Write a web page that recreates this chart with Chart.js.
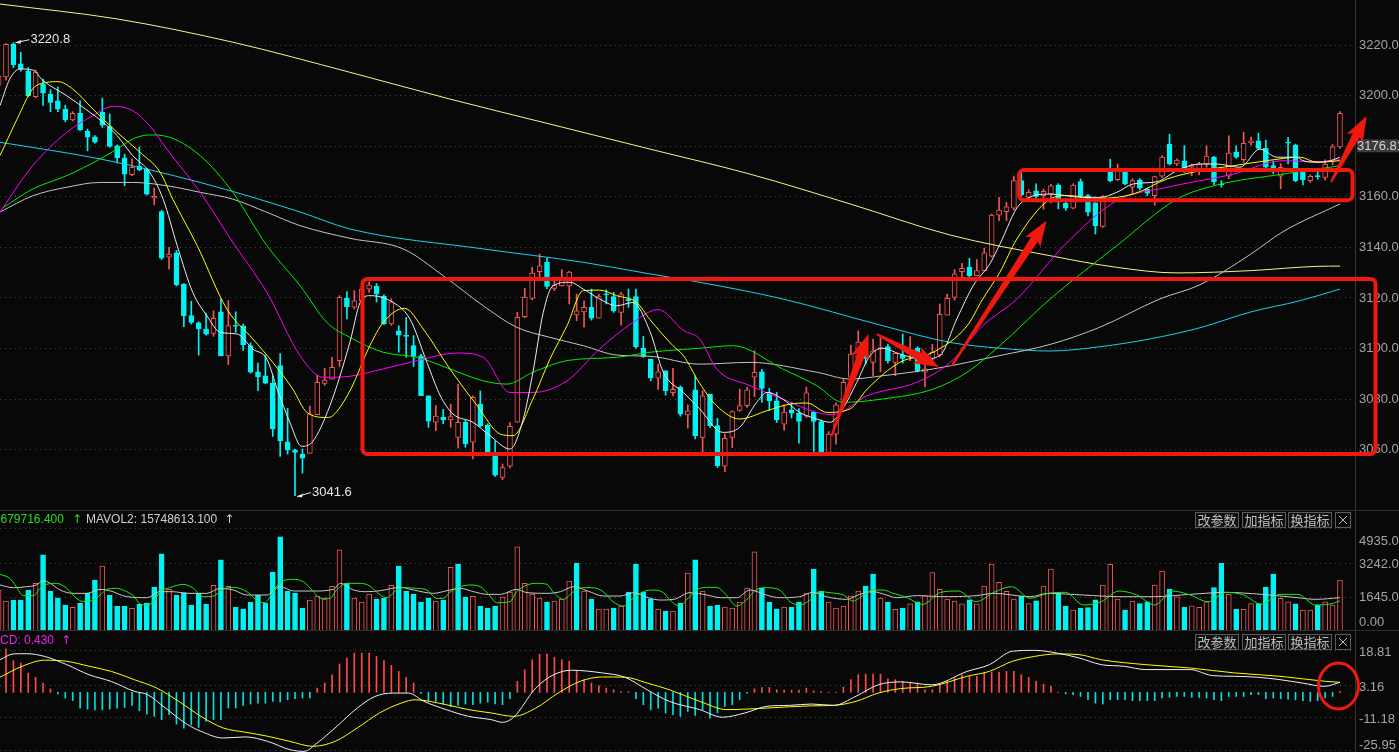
<!DOCTYPE html>
<html>
<head>
<meta charset="utf-8">
<script src="https://cdn.jsdelivr.net/npm/chart.js@4.4.1/dist/chart.umd.min.js"></script>
<style>
html, body { margin:0; padding:0; background:#080808; overflow:hidden; }
#wrap { position:relative; width:1399px; height:752px; background:#080808; }
canvas { position:absolute; left:0; }
</style>
</head>
<body>
<div id="wrap">
  <canvas id="price" width="1399" height="510" style="top:0"></canvas>
  <canvas id="vol" width="1399" height="120" style="top:510px"></canvas>
  <canvas id="macd" width="1399" height="122" style="top:630px"></canvas>
</div>
<script>
// ---- candles ----
const opens = [3204,3207.3,3220.3,3212.4,3209.7,3199.4,3204.4,3200.5,3197.8,3194.5,3190.2,3192.9,3185.7,3183.6,3193.3,3187.6,3180,3175.2,3168.6,3171.9,3170.8,3159.3,3154,3135.9,3137.6,3125.3,3112.8,3109.9,3107.5,3105.8,3114.3,3096.9,3109,3108.8,3100.9,3090.6,3089,3086.1,3093,3062.9,3059.7,3058,3058.3,3073.6,3086,3087.7,3095,3119.6,3116.1,3118.7,3123.3,3124.4,3120.4,3109.5,3106.8,3105.1,3100.9,3096.9,3081.1,3070.6,3072.6,3071.5,3064.6,3070.6,3062.7,3077.8,3069.5,3058.7,3048.8,3053.2,3070.6,3112.4,3119.6,3130.2,3133.9,3123.6,3124.6,3124.6,3113.1,3114.3,3116.1,3111.8,3121.3,3120.3,3114.1,3119.4,3120.3,3100,3095.6,3088,3091,3082.3,3084.4,3073.5,3083.4,3064.6,3081.8,3069.3,3053.2,3064.6,3075.3,3077.2,3088.4,3090.6,3082.2,3079.1,3069.8,3075.5,3074.2,3073,3074.6,3070.9,3058.7,3065.9,3077.5,3088.4,3095.6,3098.3,3094.3,3099.5,3100.5,3094.3,3097.2,3098,3100,3090.4,3095.6,3097.2,3113,3120,3130.2,3131.9,3128.6,3130.6,3136.3,3152.6,3153.9,3155.3,3166.2,3159.6,3162.2,3160.3,3160.9,3164.5,3157.2,3155.3,3165.8,3160.3,3157.4,3148.1,3170.1,3166.6,3170.4,3163.6,3166.5,3162.9,3160.3,3168,3180.7,3172.8,3174.1,3171.5,3170.1,3172.8,3175.5,3164.9,3168,3177.5,3174.5,3181.1,3182,3179,3172.2,3168,3181.4,3180.3,3170,3166.2,3168.2,3167.5,3173.8,3179.6];
const highs = [3209,3220.5,3220.8,3217,3211,3210,3206.4,3202.2,3203.2,3196.1,3193.5,3197.8,3186.6,3184,3198.9,3192.6,3180.4,3176.7,3174.8,3179.5,3171,3163.3,3154.5,3139.8,3138.6,3125.5,3118.5,3110.4,3113.8,3114.7,3119.4,3118.7,3114.3,3109.5,3102,3094,3097.2,3089,3097.8,3076.1,3059.9,3060,3077,3089.3,3092,3096.3,3120.7,3122.3,3122.7,3124.5,3126.2,3125.5,3121,3119.5,3108.8,3112.1,3104.9,3097.5,3081.1,3077.2,3075.7,3077.8,3085.7,3071.5,3081.1,3083,3070,3063.3,3054.1,3070.5,3114.1,3123.6,3131.9,3137.2,3135.5,3126.6,3131,3130.4,3121.3,3118.7,3123.3,3121.3,3123,3122,3122,3123.3,3123.3,3104.6,3095.6,3093.6,3091,3091.9,3085,3077.5,3089,3083.1,3081.8,3072.2,3065.9,3075.1,3083.7,3084.4,3098.9,3091.5,3084,3082.4,3077.5,3078.5,3076,3084.5,3075,3071.5,3066.9,3078.3,3087.5,3101,3106.8,3100.5,3103.5,3104,3101.5,3098,3105.5,3104.5,3100.5,3096,3101.5,3117.4,3121.3,3131,3133.5,3135.5,3135,3139.5,3153,3159.6,3157.6,3168,3170,3162.6,3165,3162.9,3164.8,3165,3158.3,3165,3166.9,3160.8,3157.5,3160.3,3174.7,3172.8,3170.8,3166.9,3167,3163.2,3168,3176.1,3184.6,3174.8,3180,3172.8,3173.5,3180,3175.8,3166.2,3184,3180,3185.4,3183.5,3185,3182.3,3174,3173,3183.4,3180.7,3171,3168.5,3170,3174.5,3180.5,3193.5];
const lows = [3202,3206,3211,3209.5,3199.5,3199,3196,3193.5,3193.5,3189.5,3189.8,3186,3178,3181,3187.3,3179.4,3173.2,3164.2,3168.2,3170.1,3160.5,3156.6,3135,3131.2,3124.5,3108.4,3109.5,3097.2,3105.1,3104.6,3096.9,3093.4,3106.2,3099,3090,3083.1,3085.8,3065,3057.1,3058,3041.6,3050.5,3058.3,3073.6,3085.3,3087.7,3092.7,3111.5,3115.4,3117,3122,3118.2,3109.2,3109,3098.3,3096.3,3092.7,3081.1,3068.6,3067.3,3070,3068.6,3060.3,3060.7,3056.1,3068.8,3058.5,3049.2,3047.9,3052.5,3070.6,3112,3119,3127.3,3123.5,3122.7,3124.4,3117.4,3110.8,3108.2,3111,3111.8,3117.4,3114.1,3109,3116.1,3099.8,3096.3,3087,3083.6,3081.3,3081,3073,3068.3,3064,3058.5,3068.6,3052.7,3051,3060.6,3075,3076.5,3080.8,3078.5,3075.2,3070.5,3067.5,3072.3,3062.3,3072.5,3059,3058,3058.5,3061.9,3077,3087.5,3093,3093.5,3089,3090.5,3094,3089,3094,3095,3090.5,3084.6,3094,3096.5,3113,3119,3127.5,3128.2,3128.6,3130.6,3136,3150.4,3150.4,3154.5,3160,3158.9,3159.2,3154.9,3157.4,3155,3154.4,3155,3159.5,3152.3,3145.1,3147.7,3165.8,3166.2,3164.5,3160.9,3162.5,3160.3,3156.5,3167.5,3172.4,3172.1,3169.5,3168.2,3168.5,3171.5,3164.5,3163.6,3167,3175,3173.5,3180.3,3178.7,3170.3,3169,3163,3172.8,3165.8,3164.5,3165.5,3166.8,3166.5,3172.5,3179];
const closes = [3207.5,3220.2,3212.1,3210.4,3199.8,3209.2,3200.8,3197.2,3194.5,3190.3,3192.9,3186.4,3183.4,3181.4,3188.2,3179.8,3175.2,3168.8,3171.5,3170.5,3160.9,3160,3135.5,3137.2,3125,3112.8,3110.1,3107.5,3105.5,3111.7,3096.9,3108.9,3108.6,3101.3,3090.4,3088.6,3086.1,3068,3063.3,3059.7,3058.7,3056.4,3073.9,3086.4,3087.3,3092.3,3120,3116.3,3118.7,3123.3,3124.9,3121.3,3109.5,3118.3,3105.1,3104.6,3096.7,3081.1,3071,3073,3071.6,3072.8,3070.6,3062,3080.5,3069.3,3058.5,3049.7,3052.7,3069,3112.1,3120,3129.6,3132.5,3124.4,3124.9,3127,3130,3114.7,3116.1,3111.8,3120.3,3121,3114.7,3121.1,3118.7,3100.5,3096.7,3088.1,3090.6,3083.1,3083.6,3073.8,3075.1,3065.3,3081.1,3069.3,3053.4,3064.2,3074.8,3077.2,3083.4,3090.4,3084,3079.1,3071.6,3074.6,3074.2,3070.9,3082.2,3070.9,3058.4,3065.9,3077.5,3086.4,3097.6,3102.3,3095.9,3098.9,3100.2,3095,3097.9,3095.9,3099,3091,3091.7,3098.3,3113.3,3119.6,3129.3,3131.5,3128.6,3130.6,3137.6,3152.6,3154.6,3155.9,3166.2,3160.6,3161.6,3160,3162,3164.2,3158.3,3155.3,3164.5,3160.3,3153.7,3148.4,3159.9,3166.2,3170.5,3164.9,3166.2,3163.2,3161.3,3167.8,3175.5,3172.8,3174.4,3170.1,3172.4,3172.8,3175.9,3165.8,3164.5,3177.1,3175.5,3181,3182,3179,3171.5,3170.8,3171.5,3181,3166.2,3166.5,3167.9,3167.8,3172.8,3179.6,3192.9];

// ---- moving averages, points [candle index, price] ----
const ma5Pts = [[0.19,3195.9],[1.5,3206.4],[2.9,3210.4],[4.6,3210],[6,3205.8],[9.2,3199.8],[12.3,3193.3],[14.1,3189.3],[16,3184],[18.1,3176.1],[20.4,3169.5],[22.2,3158.9],[24.1,3140.5],[26.2,3122],[28.1,3112.8],[29.9,3106.2],[32.2,3105.5],[34.3,3099.6],[36.2,3095.6],[37.6,3083.7],[39.3,3070.6],[40.9,3061.1],[42.3,3062.7],[44.7,3077.1],[47.4,3102.2],[48.8,3118.1],[50.1,3120.7],[52.8,3118.7],[55.5,3111.5],[57.8,3094.3],[59.6,3081.1],[61.3,3073.9],[64,3070.6],[66.3,3065.3],[69,3060],[70.8,3071.9],[72.1,3090.4],[73.5,3114.1],[74.8,3124.6],[77.1,3126],[78.9,3123.3],[81.1,3119.4],[83.4,3116.7],[85.6,3118],[87.9,3106.5],[89.7,3090.4],[92.4,3082.4],[94.6,3075.9],[97.7,3066.6],[100,3068.6],[102.3,3078.5],[103.7,3082.4],[105.8,3079.8],[108.1,3074.5],[110.4,3071.9],[112.2,3070.6],[113.9,3075.9],[115.8,3086.4],[117.6,3097],[119.3,3099.9],[121.6,3097.6],[124.7,3095.6],[127,3097],[129.3,3111.5],[131.5,3124.6],[133.8,3133.5],[135.1,3141],[137.8,3156.9],[141.9,3160.9],[146.3,3159.6],[148.6,3159.6],[150.9,3161.6],[153.1,3164.9],[156.3,3165.8],[159,3170.1],[162.1,3172.8],[164.4,3172.8],[167.5,3171.5],[170.2,3178.7],[172.5,3175.5],[175.2,3175.5],[176,3174.1],[177.9,3173.5],[179.7,3174.1],[181,3175.5]];
const ma10Pts = [[0.19,3176.1],[2.5,3190.6],[4.6,3202.5],[6.5,3205.1],[8,3205.4],[10,3202.5],[12.7,3194.6],[16,3185.3],[19.1,3177.4],[21.8,3169.5],[23.5,3158.9],[26.8,3140.5],[30.8,3115.4],[34.3,3103.6],[37,3094.3],[39.7,3083.7],[41.6,3074.5],[44.3,3072.5],[45.1,3073.2],[47.4,3083],[50.1,3100.9],[51.9,3110.1],[54.8,3115.7],[57.3,3107.5],[60.9,3091.7],[64.6,3077.1],[67.7,3065.9],[69.4,3065.3],[72.1,3079.8],[74.4,3095.6],[76.7,3108.8],[78.9,3122.7],[81.1,3122.9],[83.4,3120.7],[86.1,3118],[87.9,3111.2],[91,3100.9],[92.4,3097],[94.6,3086],[96.9,3077.1],[100,3071.9],[103.7,3075.2],[106.8,3077.8],[109.1,3078.2],[111.8,3074.5],[114.9,3075.9],[117.2,3083.7],[121.6,3094.3],[126.1,3098.3],[130.7,3108.8],[132.8,3119.4],[135.1,3129.9],[137.4,3143.1],[141.9,3158.9],[144.2,3160.3],[148.6,3159.2],[153.1,3160.9],[157.7,3166.9],[162.1,3170.1],[166.6,3172.1],[171.1,3174.1],[175.6,3175.5],[177.9,3173.5],[181,3174.1]];
const ma20Pts = [[0.19,3153.8],[4.6,3172.1],[9.2,3185.3],[12.7,3191.9],[15.4,3195.6],[18.1,3193.9],[20.4,3187.9],[22.7,3178.7],[27.2,3161.6],[31.6,3141.8],[36.2,3122],[40.7,3096.9],[43.8,3088.4],[47.4,3088.8],[51.9,3091.7],[56.5,3095],[61.9,3098],[65.4,3096.3],[69,3082.4],[72.1,3082.4],[76.7,3087],[81.1,3099.6],[85.6,3110.1],[89,3115.2],[92.4,3107],[94.6,3103.6],[96.9,3091.7],[101.4,3085.1],[105.8,3079.8],[110.4,3074.5],[112.6,3073.6],[117.2,3081.1],[123.9,3086.4],[128.4,3094.3],[132.8,3108.8],[137.4,3119.4],[144.2,3141.8],[150.9,3158.3],[157.7,3163.6],[166.6,3168.8],[173.3,3174.1],[177.9,3173.7],[181,3174.5]];
const ma30Pts = [[0.6,3155.5],[4.6,3162.9],[9.2,3168.2],[13.7,3174.8],[16.4,3179.5],[18.1,3182.7],[20.4,3184.3],[22.7,3183.7],[27.2,3176.1],[31.6,3161.6],[36.2,3140.5],[40.7,3124.6],[44.3,3110.1],[47.4,3104.2],[51.9,3098.3],[56.5,3096.3],[60.9,3091.7],[65.4,3087],[68.6,3085.7],[72.1,3090.4],[76.7,3095],[83.4,3096.3],[87.9,3098.3],[94.6,3099.9],[99.1,3100.9],[105.8,3091.7],[110.4,3085.1],[113.9,3078.5],[119.3,3079.8],[126.1,3083.7],[130.7,3090.4],[135.1,3100.9],[141.9,3119.4],[150.9,3140.5],[159,3158.9],[164.4,3164.5],[173.3,3168.8],[181,3172.1]];
const ma60Pts = [[0.19,3153.8],[4.6,3160.2],[9.2,3163.6],[13.7,3165.5],[18.1,3165.5],[22.7,3164.2],[27.2,3161.6],[31.6,3158.9],[36.2,3153.7],[40.7,3148.4],[47.4,3143.4],[54.6,3139.2],[60,3128.6],[65.4,3116.7],[69.9,3108.2],[74.4,3104.2],[78.9,3100.9],[83.4,3097.2],[87.9,3096.7],[94.6,3093.6],[101.4,3094.3],[110.4,3090.4],[114.9,3087.7],[119.3,3089],[126.1,3091.7],[135.1,3097],[141.9,3101.4],[148.6,3108.2],[156.7,3119.4],[162.1,3125],[168.9,3137],[173.3,3146],[181,3157]];
const ma120Pts = [[0.19,3181.4],[13.7,3174.8],[27.2,3165.5],[40.7,3153.8],[47.4,3147.1],[65.4,3139.2],[78.9,3133.9],[87.9,3129.3],[94.6,3126],[105.8,3119.4],[119.3,3108.8],[128.4,3102.2],[135.1,3099.9],[141.9,3098.8],[148.6,3100.5],[155.4,3103.6],[162.1,3108],[168.9,3114.2],[175.6,3118.7],[181,3123.3]];
const ma250Pts = [[0.19,3236.1],[16,3230.2],[31.6,3221],[47.4,3209.1],[60.9,3198.5],[74.4,3188.6],[87.9,3178.7],[101.4,3168.8],[114.9,3157],[128.4,3144.7],[141.9,3136.5],[150.9,3131.9],[159,3129.7],[168.9,3130.6],[177.9,3132.3],[181,3132.4]];

// ---- volume ----
const volumes = [1965,1440,1486,1486,1965,2284,3641,1916,1581,1246,1134,1342,1805,2443,3114,1725,1198,1198,1086,1294,1342,2108,3689,1996,1709,1837,1246,1805,1294,2188,3402,2140,1150,1054,1390,1709,1342,2827,4504,1916,1821,1102,1486,1677,1533,2140,3881,2284,1581,1390,1773,1533,1581,2188,3114,1916,1773,1390,1581,1438,1486,3050,3210,1629,1661,1198,1102,1198,1629,1869,4025,2284,1773,1581,1390,1438,1533,2396,3258,1916,1533,1054,1054,1102,1198,1869,3210,1869,1533,1054,958,958,1342,2779,3402,1916,1198,1246,1150,1102,1390,2060,3785,2060,1390,1054,1150,1150,1390,1821,2971,1916,1390,1102,1198,1677,1916,2156,2731,1581,1390,1038,1100,1300,1400,1700,2800,2000,1530,1440,1300,1500,1300,2150,3200,2330,1900,1530,1680,1310,1450,2150,2970,1830,1200,1010,1090,1120,1490,2200,3190,1530,1010,1440,1310,1400,2200,2870,2010,1640,1140,1210,1140,1400,2080,3240,1760,1040,1040,1310,1310,2100,2730,1570,1400,1300,1010,1010,1250,1400,1250,2440];
const volUp = [1,1,0,0,0,1,0,0,0,0,1,0,0,0,1,0,0,0,1,0,0,0,0,1,0,0,0,0,0,1,0,1,0,0,0,0,0,0,0,0,0,0,1,1,1,1,1,0,1,1,1,0,0,1,0,0,0,0,0,1,0,1,0,0,1,0,0,0,1,1,1,1,1,1,0,1,1,1,0,1,0,1,1,0,1,0,0,0,0,1,0,1,0,1,0,1,0,0,1,1,1,1,1,0,0,0,1,0,0,1,0,0,1,1,1,1,1,0,0,1,0,1,0,1,0,1,1,1,1,1,1,0,1,1,1,1,1,1,0,1,0,1,1,0,0,1,0,0,0,1,1,1,0,1,0,0,1,1,0,1,0,1,1,1,0,0,1,0,1,1,0,0,0,1,1,0,1,1,0,1,1,1];
const mavol1Pts = [[0.19,2715],[1.5,2523],[2.4,2124],[3.3,1693],[4.7,1693],[5.6,2044],[6.5,2236],[7.8,2284],[9.2,2044],[10.5,1565],[11.4,1421],[12.6,1453],[13.7,1725],[14.6,1996],[15.9,2044],[17.3,1884],[18.2,1693],[19.1,1294],[20,1246],[20.9,1405],[21.8,1884],[23.1,2076],[24.9,2236],[26.3,2044],[27.6,1645],[29,1677],[30.3,1996],[31.7,2092],[33.5,1884],[34.8,1485],[35.9,1357],[36.9,1805],[38,2332],[39.8,2475],[41.1,2364],[42.5,1884],[43.4,1565],[44.7,1565],[45.6,1964],[47,2284],[48.8,2284],[50.1,2156],[51.5,1725],[52.4,1597],[53.7,1964],[54.6,2076],[56.4,2044],[57.8,1964],[59.1,1565],[60,1565],[60.9,1860],[62.3,2124],[63.6,2204],[65,2124],[66.3,1677],[67.2,1357],[69,1405],[69.9,1884],[71.3,2204],[72.6,2284],[74,2236],[74.8,1884],[76.2,1517],[77.6,1884],[78.9,2076],[80.2,2076],[81.6,1884],[82.9,1405],[84.3,1198],[85.6,1565],[87,1884],[88.3,1964],[89.7,1837],[90.6,1485],[91.9,1198],[92.8,1485],[94.2,1964],[95.5,2092],[96.9,2092],[98.2,1725],[99.6,1198],[100.9,1485],[102.3,1996],[103.6,2076],[105.4,1964],[106.8,1405],[108.1,1246],[109.5,1485],[110.8,1884],[112.2,1837],[114,1725],[115.3,1437],[116.7,1725],[118,1964],[119.4,1964],[120.7,1805],[122.3,1645],[124.7,1279],[127.1,1852],[129.5,1916],[131.9,1406],[134.3,1852],[136.7,2122],[139.2,1566],[141.6,1805],[144,1852],[146.4,1247],[148.8,1406],[151.2,1916],[153.6,1725],[156,1247],[158.4,1916],[160.8,1725],[163.2,1406],[165.6,1852],[168,1725],[170.4,1279],[172.9,1757],[175.3,1757],[177.7,1247],[180.1,1327],[181,1450]];
const mavol2Pts = [[0.19,2204],[2,2076],[3.8,2124],[5.1,2204],[6,2411],[6.9,2300],[8.3,1964],[10.1,1805],[11.9,1805],[13.7,1996],[15,1932],[17.3,1645],[20,1597],[21.8,1884],[23.6,1884],[25.4,1805],[28.1,1805],[29.9,2044],[31.7,1964],[33.5,1725],[36.2,1725],[38,2124],[39.8,1916],[42.5,1916],[45.2,1996],[46.1,2284],[47.9,1964],[49.7,1884],[51.5,1932],[54.2,2092],[56,1964],[58.7,1805],[60.5,1932],[62.3,2044],[64.1,1884],[65.9,1757],[67.7,1757],[69.9,1996],[71.3,1837],[74,1805],[75.8,1884],[77.6,2124],[79.4,1932],[81.6,1677],[83.9,1677],[85.7,1837],[87.5,1613],[89.3,1485],[91.1,1517],[93.3,1837],[95.6,1725],[97.4,1597],[99.6,1597],[101.4,1964],[103.6,1725],[105.4,1597],[108.1,1645],[109.9,1853],[111.7,1645],[114.4,1517],[116.2,1757],[118,1884],[119.8,1725],[121.2,1597],[124,1700],[127.1,1645],[131.9,1693],[134.3,1805],[139.2,1645],[141.6,1800],[146.4,1725],[151.2,1645],[156,1645],[160.8,1757],[165.6,1852],[170.4,1757],[175.3,1597],[177.7,1518],[181,1600]];

// ---- MACD ----
const difPts = [[0.19,14.6],[2,17.2],[3.8,17.3],[6.2,16.1],[9.2,12.4],[12.2,7.9],[15.2,4.9],[18.3,0.5],[20.1,-1],[22.5,-7],[25.5,-14.4],[27.3,-17.4],[30.3,-20.4],[33.3,-19.9],[36.3,-21.9],[39.3,-25.6],[41.2,-26.4],[43,-22.6],[45.4,-15.9],[48.4,-7],[50.8,-1.8],[53.2,-0.3],[55.3,-0.3],[57.4,-4],[60.4,-7.7],[63.4,-10.7],[66.5,-12.2],[68,-13.4],[69.5,-11.1],[72.5,2],[74.9,7.9],[77.3,9.9],[81.5,8.7],[84.5,6.8],[87.5,1.2],[90.5,-4],[94.6,-7.7],[97.7,-11.1],[100.7,-9.2],[103.7,-6.2],[106.7,-5.8],[109.7,-5.2],[112.7,-5.8],[115.7,-1.7],[118.7,3.4],[121.7,4.7],[125.9,3.4],[130.7,9.4],[133.7,12.4],[136.8,18.4],[139.8,18.8],[142.8,17.6],[145.8,15.4],[148.8,12.4],[151.8,11.7],[154.8,10.2],[160.8,10.2],[163.8,7.5],[166.8,7.2],[169.8,6.8],[172.9,5.7],[175.9,4.2],[178.9,2.7],[181,4.5]];
const deaPts = [[0.19,6.8],[3.2,11.7],[6.2,14.4],[9.2,13.9],[12.2,11.7],[15.2,9.4],[18.3,5.7],[21.3,2],[24.3,-4],[27.3,-10.7],[30.3,-15.9],[33.3,-17.8],[36.3,-19.6],[39.3,-21.9],[42.4,-24.1],[45.4,-21.9],[48.4,-15.9],[51.4,-9.2],[54.4,-4.7],[56.2,-3.3],[60.4,-5.5],[63.4,-7.7],[66.5,-9.2],[69.5,-10.7],[72.5,-7],[75.5,-0.3],[78.5,5],[81.5,6.9],[84.5,6.8],[87.5,4.2],[90.5,1.2],[94.6,-4],[98.3,-7.7],[103.7,-7],[109.7,-6],[112.7,-5.8],[115.7,-4],[118.7,-0.3],[121.7,1.7],[125.9,2.7],[130.7,7.2],[133.7,9.4],[136.8,13.9],[139.8,16.1],[142.8,17.2],[145.8,16.9],[148.8,14.6],[154.8,12.4],[160.8,10.9],[166.8,8.7],[172.9,7.2],[178.9,5],[181,4.5]];
const macdHist = [20,19.5,14.2,13.1,8.6,6.7,4.2,1.6,-0.7,-2.5,-3.7,-7,-7.5,-7.8,-7.8,-7.5,-7,-6.7,-5.8,-8.2,-9.7,-10.7,-12.2,-10,-14.2,-16,-14.5,-15.7,-13,-12.2,-12.2,-7,-7,-5.8,-5.2,-4.8,-4.8,-4,-4.3,-3.3,-2.8,-2.5,-2.5,1.9,4.2,7.9,12.7,15.4,17.6,17.6,17.6,16.1,14.2,12.1,9.4,6.7,4.2,-0.5,-3.7,-4,-5.2,-6.4,-5.8,-5.2,-5.5,-4.8,-4.3,-5.2,-5.5,-2.8,4.9,10.1,14.6,17.1,17.1,15.7,14.6,13.9,9.4,5.7,4.2,3.1,1.9,1.2,0.4,0.4,-2.8,-5.5,-7.8,-7,-9.2,-10,-10.7,-8.5,-10.3,-7.8,-11.5,-9.2,-6.3,-5.5,-3.3,-0.3,1.6,2.2,2.2,1.2,1,1,1,1.9,0.7,0.4,0.1,0.1,2.4,5.7,7.9,8.2,8.2,8.2,6.1,5.7,4.9,4.2,4.2,1.2,1.2,3.4,4.9,6.4,7.9,7.2,7.2,9.1,9.1,9.1,9.4,9.4,7.9,6.7,4.9,3.7,2.7,0.1,-0.7,-1,-1.8,-3.3,-4.8,-5.2,-3.3,-3.3,-3.3,-3.7,-3.7,-3.7,-3.7,-2.5,-2.2,-1.8,-1.8,-2.2,-2.2,-2.5,-3.3,-3.7,-1.8,-1.8,-1.8,-1,-1,-2.8,-2.5,-2.8,-3,-3.3,-3.7,-4,-3.7,-2.5,-1.8,0.43];

// ---- axes / labels ----
const priceTicks = [3060,3080,3100,3120,3140,3160,3180,3200,3220];
const volTicks = [0,1645,3242,4935];
const macdTicks = [18.81,3.16,-11.18,-25.95];
const lastPrice = 3176.81;
const highMark = [2, 3220.8];
const lowMark = [40, 3041.6];

const RED = '#f25656', CYAN = '#00f2f2', BG = '#080808';
const ANNO = '#f0180f';
const AXIS_FONT = '13px "Liberation Sans", "DejaVu Sans", sans-serif';
const HEAD_FONT = '12px "Liberation Sans", "DejaVu Sans", sans-serif';
const ARROW_FONT = '12px "DejaVu Sans", sans-serif';
const X_MIN = 0.19, X_MAX = 183.03;
const idx = opens.map((_, i) => i);

function xAxis() { return { type: 'linear', min: X_MIN, max: X_MAX, display: false, offset: false }; }
function pts(arr) { return arr.map(p => ({ x: p[0], y: p[1] })); }
function line(arr, color, order) {
  return { type: 'line', data: pts(arr), borderColor: color, borderWidth: 1, pointRadius: 0,
           cubicInterpolationMode: 'monotone', order: order || 0 };
}
const baseOpts = {
  responsive: false, animation: false, events: [],
  layout: { padding: { right: 44, left: 0, top: 0, bottom: 0 } },
  plugins: { legend: { display: false }, tooltip: { enabled: false } }
};

function dotted(ctx, area, y) {
  ctx.save();
  ctx.strokeStyle = '#4a4a4a'; ctx.lineWidth = 1; ctx.setLineDash([1, 4]);
  ctx.beginPath(); ctx.moveTo(area.left, Math.round(y) + 0.5); ctx.lineTo(area.right, Math.round(y) + 0.5); ctx.stroke();
  ctx.restore();
}
function divider(chart, topLine) {
  const ctx = chart.ctx, a = chart.chartArea;
  ctx.save();
  ctx.strokeStyle = '#363636'; ctx.lineWidth = 1;
  ctx.beginPath(); ctx.moveTo(a.right + 0.5, 0); ctx.lineTo(a.right + 0.5, chart.height); ctx.stroke();
  if (topLine) { ctx.strokeStyle = '#2e2e2e'; ctx.beginPath(); ctx.moveTo(0, 0.5); ctx.lineTo(chart.width, 0.5); ctx.stroke(); }
  ctx.restore();
}
function buttons(ctx, y) {
  const names = ['改参数', '加指标', '换指标'];
  const xs = [1195, 1242, 1288];
  ctx.save();
  ctx.font = '13px "Noto Sans CJK SC", sans-serif';
  ctx.textBaseline = 'middle'; ctx.textAlign = 'center';
  names.forEach((n, k) => {
    ctx.fillStyle = '#111'; ctx.fillRect(xs[k] + 0.5, y + 0.5, 43, 15);
    ctx.strokeStyle = '#5c5c5c'; ctx.strokeRect(xs[k] + 0.5, y + 0.5, 43, 15);
    ctx.fillStyle = '#bdbdbd'; ctx.fillText(n, xs[k] + 22, y + 8.5);
  });
  ctx.strokeStyle = '#5c5c5c'; ctx.strokeRect(1335.5, y + 0.5, 15, 15);
  ctx.strokeStyle = '#bdbdbd'; ctx.beginPath();
  ctx.moveTo(1339, y + 4); ctx.lineTo(1347, y + 12); ctx.moveTo(1347, y + 4); ctx.lineTo(1339, y + 12); ctx.stroke();
  ctx.restore();
}
// text whose first part is pushed off the left edge, so that `visible` starts at x
function cutText(ctx, hidden, visible, x, y) {
  const w = ctx.measureText(hidden).width;
  ctx.fillText(hidden + visible, x - w, y);
  return x + ctx.measureText(visible).width;
}
function arrow(ctx, x0, y0, x1, y1) {
  const dx = x1 - x0, dy = y1 - y0, len = Math.hypot(dx, dy);
  const ux = dx / len, uy = dy / len, nx = -uy, ny = ux;
  const hl = Math.min(22, len * 0.35), hw = 9, sw = 4, tw = 1;
  const bx = x1 - ux * hl, by = y1 - uy * hl;
  ctx.beginPath();
  ctx.moveTo(x0 + nx * tw, y0 + ny * tw);
  ctx.lineTo(bx + nx * sw, by + ny * sw);
  ctx.lineTo(bx - ux * 3 + nx * hw, by - uy * 3 + ny * hw);
  ctx.lineTo(x1, y1);
  ctx.lineTo(bx - ux * 3 - nx * hw, by - uy * 3 - ny * hw);
  ctx.lineTo(bx - nx * sw, by - ny * sw);
  ctx.lineTo(x0 - nx * tw, y0 - ny * tw);
  ctx.closePath(); ctx.fill();
}

// annotation shapes in data coordinates [index, price]
const annoBoxes = [[49.1, 3127.3, 185.8, 3058.0], [137.7, 3170.4, 182.7, 3158.5]];
const annoArrows = [[112.4, 3065.2, 117.4, 3105.5], [118.5, 3105.5, 126.9, 3092.5], [128.6, 3092.9, 141.4, 3150.3], [179.8, 3165.7, 184.6, 3191.8]];

// ---------------- price panel ----------------
const pricePlugin = {
  id: 'pricePlugin',
  beforeDatasetsDraw(chart) {
    const y = chart.scales.y;
    priceTicks.forEach(v => dotted(chart.ctx, chart.chartArea, y.getPixelForValue(v)));
  },
  afterDraw(chart) {
    const ctx = chart.ctx, a = chart.chartArea, xs = chart.scales.x, ys = chart.scales.y;
    divider(chart, false);
    const near = priceTicks.reduce((b, v) => Math.abs(v - lastPrice) < Math.abs(b - lastPrice) ? v : b, priceTicks[0]);
    ctx.save();
    ctx.font = AXIS_FONT; ctx.textBaseline = 'middle';
    priceTicks.forEach(v => {
      const py = ys.getPixelForValue(v);
      if (v === near) {
        ctx.fillStyle = '#3c3c3c'; ctx.fillRect(a.right + 2, py - 6.5, 44, 13);
        ctx.fillStyle = '#d4d4d4'; ctx.fillText(lastPrice.toFixed(2), a.right + 2, py + 0.5);
      } else {
        ctx.fillStyle = '#a4a4a4'; ctx.fillText(v.toFixed(2), a.right + 4, py + 0.5);
      }
    });
    // high / low marks
    ctx.fillStyle = '#e6e6e6'; ctx.strokeStyle = '#e6e6e6'; ctx.lineWidth = 1;
    [[highMark, -3], [lowMark, -4]].forEach(([m, dy]) => {
      const tx = xs.getPixelForValue(m[0]) + 2, ty = ys.getPixelForValue(m[1]) + (m === lowMark ? 1 : 0);
      ctx.beginPath(); ctx.moveTo(tx + 14, ty + dy); ctx.lineTo(tx, ty); ctx.stroke();
      ctx.beginPath(); ctx.moveTo(tx, ty); ctx.lineTo(tx + 6, ty - 3); ctx.lineTo(tx + 5, ty + 1); ctx.closePath(); ctx.fill();
      ctx.font = '13px "Liberation Sans", sans-serif';
      ctx.fillText(m[1].toFixed(1), tx + 15, ty + dy);
    });
    // annotations
    ctx.strokeStyle = ANNO; ctx.fillStyle = ANNO; ctx.lineWidth = 4; ctx.lineJoin = 'round';
    annoBoxes.forEach(b => {
      const x0 = xs.getPixelForValue(b[0]), y0 = ys.getPixelForValue(b[1]);
      const x1 = xs.getPixelForValue(b[2]), y1 = ys.getPixelForValue(b[3]);
      ctx.beginPath(); ctx.roundRect(x0, y0, x1 - x0, y1 - y0, 5); ctx.stroke();
    });
    annoArrows.forEach(r => arrow(ctx, xs.getPixelForValue(r[0]), ys.getPixelForValue(r[1]), xs.getPixelForValue(r[2]), ys.getPixelForValue(r[3])));
    ctx.restore();
  }
};

new Chart(document.getElementById('price'), {
  type: 'bar',
  data: {
    datasets: [
      line(ma5Pts, '#ececec'), line(ma10Pts, '#ffff00'), line(ma20Pts, '#ff00ff'), line(ma30Pts, '#00ee00'),
      line(ma60Pts, '#c4c4c4'), line(ma120Pts, '#1ad2f0'), line(ma250Pts, '#f4f48a'),
      { type: 'bar', data: idx.map(i => ({ x: i, y: [opens[i], closes[i]] })),
        backgroundColor: idx.map(i => closes[i] > opens[i] ? BG : CYAN),
        borderColor: idx.map(i => closes[i] > opens[i] ? RED : CYAN),
        borderWidth: 1, borderSkipped: false, barThickness: 5, minBarLength: 1, grouped: false, order: 2 },
      { type: 'bar', data: idx.map(i => ({ x: i, y: [lows[i], highs[i]] })),
        backgroundColor: idx.map(i => closes[i] > opens[i] ? RED : CYAN),
        borderWidth: 0, barThickness: 1, grouped: false, order: 3 }
    ]
  },
  options: Object.assign({}, baseOpts, {
    scales: { x: xAxis(), y: { type: 'linear', min: 3035.88, max: 3237.7, display: false } }
  }),
  plugins: [pricePlugin]
});

// ---------------- volume panel ----------------
const volPlugin = {
  id: 'volPlugin',
  beforeDatasetsDraw(chart) {
    const y = chart.scales.y;
    volTicks.forEach(v => { const p = y.getPixelForValue(v); if (p < chart.chartArea.bottom - 2) dotted(chart.ctx, chart.chartArea, p); });
  },
  afterDraw(chart) {
    const ctx = chart.ctx, a = chart.chartArea, ys = chart.scales.y;
    divider(chart, true);
    ctx.save();
    ctx.font = AXIS_FONT; ctx.textBaseline = 'middle'; ctx.fillStyle = '#a4a4a4';
    volTicks.forEach(v => {
      const py = Math.min(Math.max(ys.getPixelForValue(v) + 1, 31), 112);
      ctx.fillText(v.toFixed(2), a.right + 4, py);
    });
    ctx.font = HEAD_FONT; ctx.fillStyle = '#20e020';
    let end = cutText(ctx, 'MAVOL1: 15', '679716.400', 0.5, 10);
    ctx.font = ARROW_FONT; ctx.fillText('\u2191', end + 8, 10);
    ctx.font = HEAD_FONT; ctx.fillStyle = '#cfcfcf';
    ctx.fillText('MAVOL2: 15748613.100', 86, 10);
    end = 86 + ctx.measureText('MAVOL2: 15748613.100').width;
    ctx.font = ARROW_FONT; ctx.fillText('\u2191', end + 7, 10);
    ctx.restore();
    buttons(ctx, 2);
  }
};

new Chart(document.getElementById('vol'), {
  type: 'bar',
  data: {
    datasets: [
      line(mavol1Pts, '#1ee81e'), line(mavol2Pts, '#c8c8c8'),
      { type: 'bar', data: idx.map(i => ({ x: i, y: volumes[i] })),
        backgroundColor: idx.map(i => volUp[i] ? BG : CYAN),
        borderColor: idx.map(i => volUp[i] ? RED : CYAN),
        borderWidth: 1, borderSkipped: false, barThickness: 5, grouped: false, order: 2 }
    ]
  },
  options: Object.assign({}, baseOpts, {
    scales: { x: xAxis(), y: { type: 'linear', min: 52.6, max: 5790, display: false } }
  }),
  plugins: [volPlugin]
});

// ---------------- MACD panel ----------------
const macdPlugin = {
  id: 'macdPlugin',
  beforeDatasetsDraw(chart) {
    const y = chart.scales.y;
    macdTicks.forEach(v => dotted(chart.ctx, chart.chartArea, y.getPixelForValue(v)));
  },
  afterDraw(chart) {
    const ctx = chart.ctx, a = chart.chartArea, xs = chart.scales.x, ys = chart.scales.y;
    divider(chart, true);
    ctx.save();
    ctx.font = AXIS_FONT; ctx.textBaseline = 'middle'; ctx.fillStyle = '#a4a4a4';
    macdTicks.forEach(v => {
      const py = Math.min(Math.max(ys.getPixelForValue(v) + 2, 12), 115);
      ctx.fillText(v.toFixed(2), a.right + 4, py);
    });
    ctx.font = HEAD_FONT; ctx.fillStyle = '#ee22ee';
    const end = cutText(ctx, 'MA', 'CD: 0.430', 0, 11);
    ctx.font = ARROW_FONT; ctx.fillText('\u2191', end + 7, 11);
    // circle annotation round the last bars
    ctx.strokeStyle = ANNO; ctx.lineWidth = 3;
    ctx.beginPath();
    ctx.ellipse(xs.getPixelForValue(180.8), ys.getPixelForValue(2.9), 20, 23, 0, 0, Math.PI * 2);
    ctx.stroke();
    ctx.restore();
    buttons(ctx, 4);
  }
};

new Chart(document.getElementById('macd'), {
  type: 'bar',
  data: {
    datasets: [
      line(difPts, '#f0f0f0'), line(deaPts, '#ffff00'),
      { type: 'bar', data: idx.map(i => ({ x: i, y: macdHist[i] })),
        backgroundColor: idx.map(i => macdHist[i] >= 0 ? '#ff4848' : '#00dede'),
        borderWidth: 0, barThickness: 1, grouped: false, order: 2 }
    ]
  },
  options: Object.assign({}, baseOpts, {
    scales: { x: xAxis(), y: { type: 'linear', min: -26.65, max: 27.9, display: false } }
  }),
  plugins: [macdPlugin]
});
</script>
</body>
</html>
